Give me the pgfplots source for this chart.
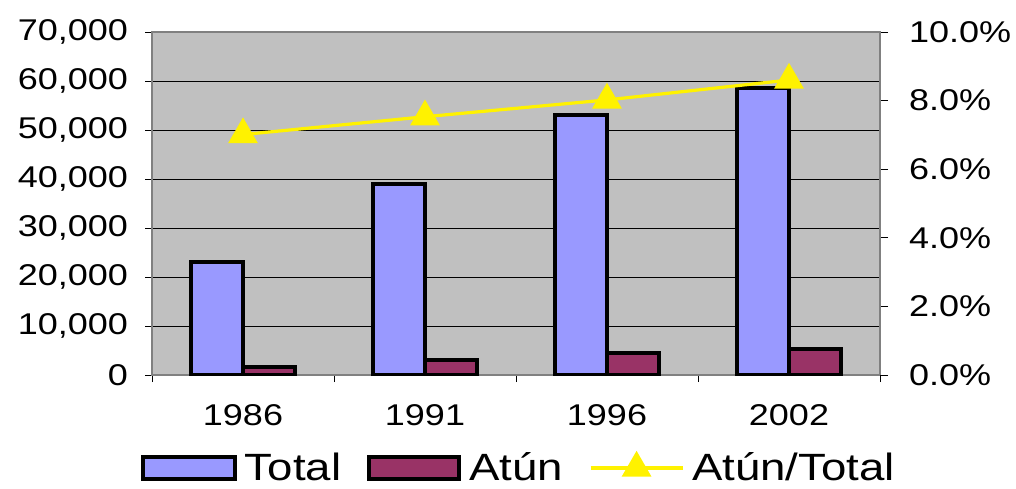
\documentclass[border=0pt]{standalone}
\usepackage{fontspec}
\setmainfont[FakeStretch=1.2]{Liberation Sans}
\usepackage{pgfplots}
\pgfplotsset{compat=1.18}
\definecolor{totalc}{HTML}{9999FF}
\definecolor{atunc}{HTML}{993366}
\definecolor{bgc}{HTML}{C0C0C0}
\definecolor{framec}{HTML}{808080}
\pgfplotsset{trilegend/.style={legend image code/.code={\draw[##1, mark repeat=2, mark phase=2] plot coordinates {(0pt,0pt) (23pt,0pt) (46pt,0pt)};}}}
\begin{document}
\begin{tikzpicture}
\path[use as bounding box] (-76pt,-56.5pt) rectangle (432pt,187.5pt);
\begin{axis}[
  at={(0,0)}, anchor=south west,
  scale only axis, width=364pt, height=171.5pt,
  xmin=-0.5, xmax=3.5, ymin=0, ymax=70000,
  axis background/.style={fill=bgc},
  axis line style={draw=framec, line width=1pt},
  ytick={0,10000,...,70000},
  scaled y ticks=false,
  /pgf/number format/.cd, 1000 sep={,}, assume math mode=true, /pgfplots/.cd,
  ymajorgrids, grid style={black, line width=0.5pt},
  xtick={-0.5,0.5,1.5,2.5,3.5}, xticklabels={},
  extra x ticks={0,1,2,3}, extra x tick labels={1986,1991,1996,2002},
  extra x tick style={major tick length=0pt},
  xtick pos=bottom, ytick pos=left,
  tick align=outside, major tick length=3.5pt,
  tick style={black, line width=0.5pt},
  ticklabel style={font=\fontsize{15}{18}\selectfont},
  xticklabel style={yshift=-11pt},
  yticklabel style={xshift=-5pt},
]
\addplot[ybar, bar width=0.285, bar shift=-0.1425, fill=totalc, draw=black, line width=2pt]
  coordinates {(0,23000) (1,39000) (2,53000) (3,58600)};
\addplot[ybar, bar width=0.285, bar shift=0.1425, fill=atunc, draw=black, line width=2pt]
  coordinates {(0,1600) (1,3000) (2,4500) (3,5300)};
\end{axis}
\begin{axis}[
  at={(0,0)}, anchor=south west,
  scale only axis, width=364pt, height=171.5pt,
  xmin=-0.5, xmax=3.5, ymin=0, ymax=10,
  axis x line=none, axis y line*=right,
  axis line style={draw=framec, line width=1pt},
  ytick={0,2,...,10},
  yticklabels={0.0\%,2.0\%,4.0\%,6.0\%,8.0\%,10.0\%},
  tick align=outside, major tick length=4pt,
  tick style={black, line width=0.5pt},
  ticklabel style={font=\fontsize{15}{18}\selectfont},
  yticklabel style={xshift=7pt},
  legend columns=3,
  legend style={at={(0.504,-0.335)}, anchor=south, draw=none, fill=none,
    font=\fontsize{19}{22}\selectfont,
    nodes={inner sep=1pt},
    /tikz/every odd column/.append style={column sep=3pt},
    /tikz/every even column/.append style={column sep=12pt}},
]
\addlegendimage{legend image code/.code={\draw[fill=totalc,draw=black,line width=2pt] (0pt,-5.5pt) rectangle (46pt,5.5pt);}}
\addlegendentry{Total}
\addlegendimage{legend image code/.code={\draw[fill=atunc,draw=black,line width=2pt] (0pt,-5.5pt) rectangle (45pt,5.5pt);}}
\addlegendentry{Atún}
\addplot[yellow, line width=1.6pt, mark=triangle*, mark size=7pt, trilegend]
  coordinates {(0,7.01) (1,7.53) (2,8.02) (3,8.6)};
\addlegendentry{Atún/Total}
\end{axis}
\end{tikzpicture}
\end{document}
